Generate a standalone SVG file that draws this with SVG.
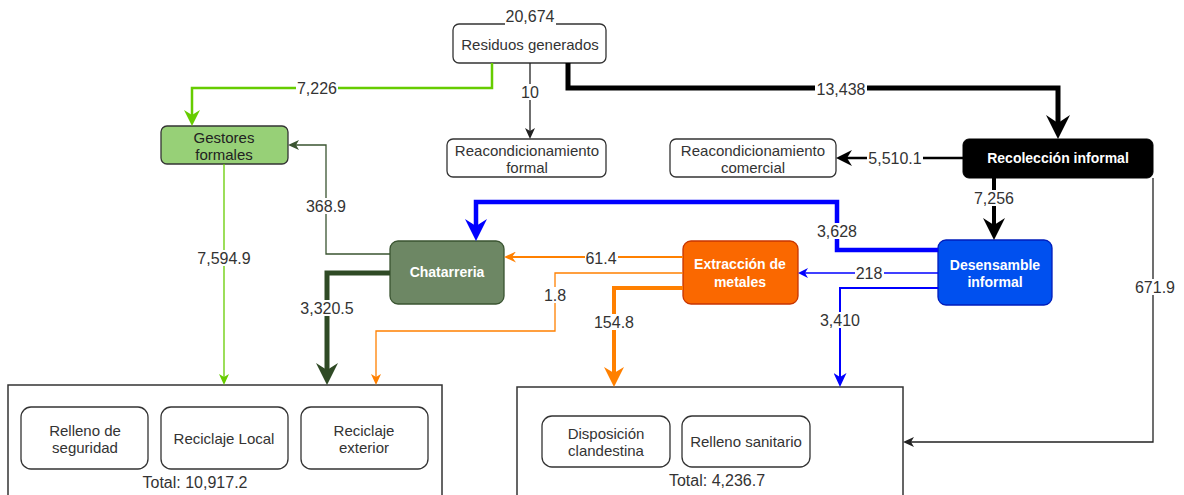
<svg xmlns="http://www.w3.org/2000/svg" width="1184" height="495" viewBox="0 0 1184 495">
  <style>
    .t { font-family: "Liberation Sans", Arial, sans-serif; font-size: 15px; fill: #333; text-anchor: middle; dominant-baseline: central; }
    .b { font-weight: bold; font-size: 14px; fill: #fff; }
    .lbl { font-family: "Liberation Sans", Arial, sans-serif; font-size: 16px; fill: #333; text-anchor: middle; dominant-baseline: central; }
    .bg { fill: #fff; stroke: none; }
    .box { fill: #fff; stroke: #333; stroke-width: 1.3; }
    .frame { fill: #fff; stroke: #333; stroke-width: 1.5; }
    .c { fill: none; stroke-linejoin: miter; }
  </style>
  <defs>
    <marker id="blk-lg" viewBox="0 0 24 24" markerWidth="24" markerHeight="24" refX="8" refY="12" orient="auto" markerUnits="userSpaceOnUse"><path d="M0,0 L24,12 L0,24 L8,12 z" fill="#000"/></marker>
    <marker id="blk-md" viewBox="0 0 22 22" markerWidth="22" markerHeight="22" refX="7" refY="11" orient="auto" markerUnits="userSpaceOnUse"><path d="M0,0 L22,11 L0,22 L7,11 z" fill="#000"/></marker>
    <marker id="blk-sm" viewBox="0 0 16 16" markerWidth="16" markerHeight="16" refX="5" refY="8" orient="auto" markerUnits="userSpaceOnUse"><path d="M0,0 L16,8 L0,16 L5,8 z" fill="#000"/></marker>
    <marker id="blk-xs" viewBox="0 0 11 10" markerWidth="11" markerHeight="10" refX="3" refY="5" orient="auto" markerUnits="userSpaceOnUse"><path d="M0,0 L11,5 L0,10 L3,5 z" fill="#222"/></marker>
    <marker id="grn-md" viewBox="0 0 16 16" markerWidth="16" markerHeight="16" refX="5" refY="8" orient="auto" markerUnits="userSpaceOnUse"><path d="M0,0 L16,8 L0,16 L5,8 z" fill="#66cc00"/></marker>
    <marker id="grn-xs" viewBox="0 0 11 10" markerWidth="11" markerHeight="10" refX="3" refY="5" orient="auto" markerUnits="userSpaceOnUse"><path d="M0,0 L11,5 L0,10 L3,5 z" fill="#66cc00"/></marker>
    <marker id="dg-lg" viewBox="0 0 22 22" markerWidth="22" markerHeight="22" refX="7" refY="11" orient="auto" markerUnits="userSpaceOnUse"><path d="M0,0 L22,11 L0,22 L7,11 z" fill="#2f4a25"/></marker>
    <marker id="dg-xs" viewBox="0 0 11 10" markerWidth="11" markerHeight="10" refX="3" refY="5" orient="auto" markerUnits="userSpaceOnUse"><path d="M0,0 L11,5 L0,10 L3,5 z" fill="#3a5431"/></marker>
    <marker id="or-lg" viewBox="0 0 20 20" markerWidth="20" markerHeight="20" refX="6" refY="10" orient="auto" markerUnits="userSpaceOnUse"><path d="M0,0 L20,10 L0,20 L6,10 z" fill="#ff8000"/></marker>
    <marker id="or-md" viewBox="0 0 12 11" markerWidth="12" markerHeight="11" refX="4" refY="5.5" orient="auto" markerUnits="userSpaceOnUse"><path d="M0,0 L12,5.5 L0,11 L4,5.5 z" fill="#ff8000"/></marker>
    <marker id="or-xs" viewBox="0 0 11 10" markerWidth="11" markerHeight="10" refX="3" refY="5" orient="auto" markerUnits="userSpaceOnUse"><path d="M0,0 L11,5 L0,10 L3,5 z" fill="#ff8000"/></marker>
    <marker id="bl-lg" viewBox="0 0 22 22" markerWidth="22" markerHeight="22" refX="7" refY="11" orient="auto" markerUnits="userSpaceOnUse"><path d="M0,0 L22,11 L0,22 L7,11 z" fill="#0000ff"/></marker>
    <marker id="bl-md" viewBox="0 0 14 13" markerWidth="14" markerHeight="13" refX="4" refY="6.5" orient="auto" markerUnits="userSpaceOnUse"><path d="M0,0 L14,6.5 L0,13 L4,6.5 z" fill="#0000ff"/></marker>
    <marker id="bl-xs" viewBox="0 0 10 10" markerWidth="10" markerHeight="10" refX="3" refY="5" orient="auto" markerUnits="userSpaceOnUse"><path d="M0,0 L10,5 L0,10 L3,5 z" fill="#0000ff"/></marker>
  </defs>

  <rect width="1184" height="495" fill="#fff"/>

  <!-- destination containers -->
  <g id="destino-reciclaje">
    <rect class="frame" x="8" y="385" width="434" height="120"/>
    <text class="t" x="195" y="482" style="font-size:16px">Total: 10,917.2</text>
  </g>
  <g id="relleno-seguridad">
    <rect class="box" x="21" y="407" width="127" height="62" rx="10"/>
    <text class="t" x="85" y="430">Relleno de</text>
    <text class="t" x="85" y="447">seguridad</text>
  </g>
  <g id="reciclaje-local">
    <rect class="box" x="161" y="407" width="127" height="62" rx="10"/>
    <text class="t" x="224" y="438">Reciclaje Local</text>
  </g>
  <g id="reciclaje-exterior">
    <rect class="box" x="301" y="407" width="127" height="62" rx="10"/>
    <text class="t" x="364" y="430">Reciclaje</text>
    <text class="t" x="364" y="447">exterior</text>
  </g>

  <g id="destino-disposicion">
    <rect class="frame" x="517" y="387" width="386" height="120"/>
    <text class="t" x="717" y="480" style="font-size:16px">Total: 4,236.7</text>
  </g>
  <g id="disposicion-clandestina">
    <rect class="box" x="542" y="416" width="128" height="51" rx="10"/>
    <text class="t" x="606" y="433">Disposición</text>
    <text class="t" x="606" y="450">clandestina</text>
  </g>
  <g id="relleno-sanitario">
    <rect class="box" x="682" y="416" width="128" height="51" rx="10"/>
    <text class="t" x="746" y="441">Relleno sanitario</text>
  </g>

  <!-- process nodes -->
  <g id="residuos-generados">
    <rect class="box" x="453" y="24" width="153" height="39" rx="6"/>
    <text class="t" x="530" y="44">Residuos generados</text>
    <rect class="bg" x="505" y="8" width="51" height="17"/>
    <text class="lbl" x="530" y="16">20,674</text>
  </g>
  <g id="reacondicionamiento-formal">
    <rect class="box" x="447" y="139" width="159" height="38" rx="6"/>
    <text class="t" x="527" y="150">Reacondicionamiento</text>
    <text class="t" x="527" y="167">formal</text>
  </g>
  <g id="reacondicionamiento-comercial">
    <rect class="box" x="670" y="139" width="166" height="38" rx="6"/>
    <text class="t" x="753" y="150">Reacondicionamiento</text>
    <text class="t" x="753" y="167">comercial</text>
  </g>
  <g id="recoleccion-informal">
    <rect x="963" y="139" width="190" height="39" rx="6" fill="#000" stroke="#000"/>
    <text class="t b" x="1058" y="158">Recolección informal</text>
  </g>
  <g id="gestores-formales">
    <rect x="161" y="126" width="127" height="38" rx="6" fill="#97d077" stroke="#333" stroke-width="1.3"/>
    <text class="t" x="224" y="137" style="fill:#222">Gestores</text>
    <text class="t" x="224" y="154" style="fill:#222">formales</text>
  </g>
  <g id="chatarreria">
    <rect x="390" y="241" width="114" height="63" rx="8" fill="#6d8764" stroke="#3a5431" stroke-width="1.3"/>
    <text class="t b" x="447" y="272">Chatarreria</text>
  </g>
  <g id="extraccion-metales">
    <rect x="683" y="241" width="115" height="63" rx="8" fill="#fa6800" stroke="#c73500" stroke-width="1.3"/>
    <text class="t b" x="740" y="264">Extracción de</text>
    <text class="t b" x="740" y="282">metales</text>
  </g>
  <g id="desensamble-informal">
    <rect x="938" y="240" width="114" height="65" rx="8" fill="#0050ef" stroke="#001dbc" stroke-width="1.3"/>
    <text class="t b" x="995" y="265">Desensamble</text>
    <text class="t b" x="995" y="282">informal</text>
  </g>

  <!-- flows: line, white label backing, value -->
  <g id="connectors">
    <path class="c" d="M492,63 V88 H192 V115" stroke="#66cc00" stroke-width="2.5" marker-end="url(#grn-md)"/>
    <rect class="bg" x="296" y="80" width="42" height="16"/>
    <text class="lbl" x="317" y="88">7,226</text>

    <path class="c" d="M530,63 V131" stroke="#222" stroke-width="1.3" marker-end="url(#blk-xs)"/>
    <rect class="bg" x="520" y="84" width="20" height="16"/>
    <text class="lbl" x="530" y="92">10</text>

    <path class="c" d="M568,63 V88 H1058 V123" stroke="#000" stroke-width="5" marker-end="url(#blk-lg)"/>
    <rect class="bg" x="815" y="80" width="52" height="18"/>
    <text class="lbl" x="841" y="89">13,438</text>

    <path class="c" d="M963,158 H847" stroke="#000" stroke-width="2.5" marker-end="url(#blk-sm)"/>
    <rect class="bg" x="867" y="150" width="56" height="16"/>
    <text class="lbl" x="895" y="158">5,510.1</text>

    <path class="c" d="M994,178 V225" stroke="#000" stroke-width="4" marker-end="url(#blk-md)"/>
    <rect class="bg" x="973" y="190" width="42" height="16"/>
    <text class="lbl" x="994" y="198">7,256</text>

    <path class="c" d="M1153,178 V442 H911" stroke="#222" stroke-width="1.3" marker-end="url(#blk-xs)"/>
    <rect class="bg" x="1134" y="279" width="42" height="16"/>
    <text class="lbl" x="1155" y="287">671.9</text>

    <path class="c" d="M938,250 H837 V202 H476 V226" stroke="#0000ff" stroke-width="4.5" marker-end="url(#bl-lg)"/>
    <rect class="bg" x="816" y="223" width="42" height="16"/>
    <text class="lbl" x="837" y="231">3,628</text>

    <path class="c" d="M938,273 H805" stroke="#0000ff" stroke-width="1.5" marker-end="url(#bl-xs)"/>
    <rect class="bg" x="855" y="265" width="29" height="16"/>
    <text class="lbl" x="869" y="273">218</text>

    <path class="c" d="M938,288 H840 V377" stroke="#0000ff" stroke-width="2" marker-end="url(#bl-md)"/>
    <rect class="bg" x="819" y="312" width="42" height="16"/>
    <text class="lbl" x="840" y="320">3,410</text>

    <path class="c" d="M683,257 H512" stroke="#ff8000" stroke-width="2" marker-end="url(#or-md)"/>
    <rect class="bg" x="585" y="250" width="33" height="16"/>
    <text class="lbl" x="601" y="258">61.4</text>

    <path class="c" d="M683,273 H555 V331 H376 V377" stroke="#ff8000" stroke-width="1.3" marker-end="url(#or-xs)"/>
    <rect class="bg" x="543" y="287" width="24" height="16"/>
    <text class="lbl" x="555" y="295">1.8</text>

    <path class="c" d="M683,288 H614 V373" stroke="#ff8000" stroke-width="4" marker-end="url(#or-lg)"/>
    <rect class="bg" x="593" y="314" width="42" height="16"/>
    <text class="lbl" x="614" y="322">154.8</text>

    <path class="c" d="M390,254 H326 V145 H296" stroke="#3a5431" stroke-width="1.3" marker-end="url(#dg-xs)"/>
    <rect class="bg" x="305" y="198" width="42" height="16"/>
    <text class="lbl" x="326" y="206">368.9</text>

    <path class="c" d="M390,273 H327 V370" stroke="#2f4a25" stroke-width="5" marker-end="url(#dg-lg)"/>
    <rect class="bg" x="299" y="300" width="56" height="16"/>
    <text class="lbl" x="327" y="308">3,320.5</text>

    <path class="c" d="M224,164 V377" stroke="#66cc00" stroke-width="1.3" marker-end="url(#grn-xs)"/>
    <rect class="bg" x="196" y="250" width="56" height="16"/>
    <text class="lbl" x="224" y="258">7,594.9</text>
  </g>
</svg>
